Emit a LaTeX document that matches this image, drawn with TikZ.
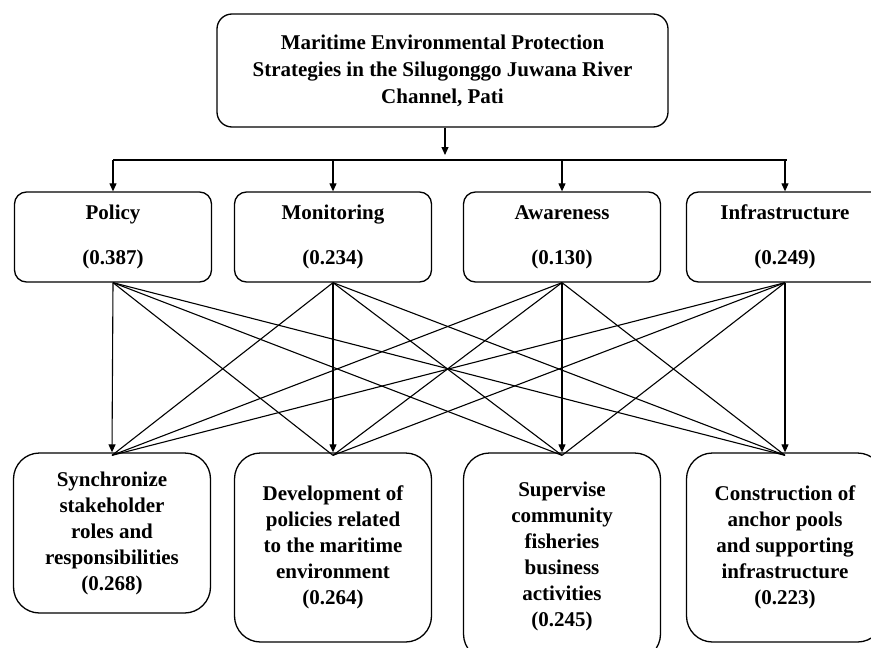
\documentclass[tikz,border=0pt]{standalone}
\usepackage{fontspec}
\setmainfont{Liberation Serif}
\usetikzlibrary{arrows.meta}
\begin{document}
\begin{tikzpicture}[x=1pt,y=-1pt,
  box/.style={draw=black, line width=1.3pt, align=center, inner sep=0pt,
    font=\bfseries\fontsize{21}{27}\selectfont},
  topbox/.style={box, rounded corners=15pt, minimum width=451pt, minimum height=113pt},
  midbox/.style={box, rounded corners=12pt, minimum width=197pt, minimum height=90pt},
  botbox/.style={box, rounded corners=26pt, minimum width=197pt,
    font=\bfseries\fontsize{21}{26}\selectfont},
  link/.style={draw=black, line width=1.1pt},
  arr/.style={link, -{Triangle[length=8pt,width=7pt]}}
]
\useasboundingbox (0,0) rectangle (871,648);
\clip (0,0) rectangle (871,648);

\node[topbox] (top) at (442.5,70.5) {Maritime Environmental Protection\\Strategies in the Silugonggo Juwana River\\Channel, Pati};

\node[midbox] (policy) at (113,237) {Policy\\[18pt](0.387)};
\node[midbox] (monit) at (333,237) {Monitoring\\[18pt](0.234)};
\node[midbox] (aware) at (562,237) {Awareness\\[18pt](0.130)};
\node[midbox] (infra) at (785,237) {Infrastructure\\[18pt](0.249)};

\node[botbox, minimum height=160pt] (sync) at (112,533) {Synchronize\\stakeholder\\roles and\\responsibilities\\(0.268)};
\node[botbox, minimum height=189pt] (dev) at (333,547.5) {Development of\\policies related\\to the maritime\\environment\\(0.264)};
\node[botbox, minimum height=207pt] (sup) at (562,556.5) {Supervise\\community\\fisheries\\business\\activities\\(0.245)};
\node[botbox, minimum height=189pt] (cons) at (785,547.5) {Construction of\\anchor pools\\and supporting\\infrastructure\\(0.223)};

% bus
\coordinate (busL) at (113,160);
\coordinate (busR) at (787,160);
\coordinate (busC) at (445,155);
\draw[arr] (top.south -| busC) -- (busC);
\draw[link] (busL) -- (busR);
\foreach \n in {policy,monit,aware,infra}{
  \draw[arr] (\n.north |- busL) -- (\n.north);
}

% criteria to alternatives
\foreach \a [count=\i] in {policy,monit,aware,infra}{
  \foreach \b [count=\j] in {sync,dev,sup,cons}{
    \ifnum\i=\j
      \draw[arr] (\a.south) -- (\b.north);
    \else
      \draw[link] (\a.south) -- ([yshift=-3pt]\b.north);
    \fi
  }
}
\end{tikzpicture}
\end{document}
